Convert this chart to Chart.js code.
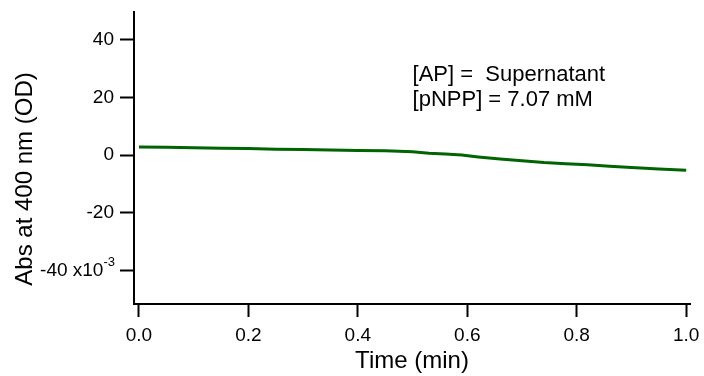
<!DOCTYPE html>
<html>
<head>
<meta charset="utf-8">
<script src="https://cdn.jsdelivr.net/npm/chart.js@4.4.0/dist/chart.umd.min.js"></script>
<style>
  html, body { margin: 0; padding: 0; background: #ffffff; }
  #wrap { width: 704px; height: 376px; }
</style>
</head>
<body>
<div id="wrap"><canvas id="c" width="704" height="376"></canvas></div>
<script>
// Time (min)
const times = [0.0, 0.05, 0.1, 0.15, 0.2, 0.25, 0.3, 0.35, 0.4, 0.45, 0.5, 0.53, 0.56, 0.59, 0.62, 0.66, 0.7, 0.74, 0.78, 0.82, 0.86, 0.9, 0.95, 1.0];
// Abs at 400 nm, in units of 1e-3 OD
const absMilli = [2.8, 2.7, 2.55, 2.4, 2.25, 2.05, 1.9, 1.75, 1.6, 1.45, 1.15, 0.65, 0.35, 0.0, -0.65, -1.4, -2.0, -2.6, -3.0, -3.35, -3.85, -4.3, -4.85, -5.25];
const xTicks = [0.0, 0.2, 0.4, 0.6, 0.8, 1.0];
const yTicks = [-40, -20, 0, 20, 40];
const yTitle = 'Abs at 400 nm (OD)';
const xTitle = 'Time (min)';
const noteLines = ['[AP] =  Supernatant', '[pNPP] = 7.07 mM'];
const notePos = { x: 0.5, y: [27.8, 19.1] };
const expTick = -40;      // tick that carries the "x10^-3" multiplier
const expText = ['x10', '-3'];

const FONT = "'Liberation Sans', Arial, sans-serif";

const textPlugin = {
  id: 'texts',
  afterDraw(chart) {
    const ctx = chart.ctx;
    const xs = chart.scales.x, ys = chart.scales.y;
    ctx.save();
    ctx.fillStyle = '#000';
    // multiplier label on the -40 tick
    const ty = ys.getPixelForValue(expTick);
    const rightEdge = chart.chartArea.left - 14 - 6;
    ctx.font = '13px ' + FONT;
    const supW = ctx.measureText(expText[1]).width;
    ctx.textAlign = 'right';
    ctx.textBaseline = 'middle';
    ctx.fillText(expText[1], rightEdge + 1, ty - 8);
    ctx.font = '19px ' + FONT;
    ctx.fillText(String(expTick) + ' ' + expText[0], rightEdge + 1 - supW, ty);
    // annotation
    ctx.font = '22px ' + FONT;
    ctx.textAlign = 'left';
    ctx.textBaseline = 'middle';
    noteLines.forEach((t, i) => {
      ctx.fillText(t, xs.getPixelForValue(notePos.x), ys.getPixelForValue(notePos.y[i]));
    });
    // y axis title
    ctx.font = '24px ' + FONT;
    ctx.translate(25, 179);
    ctx.rotate(-Math.PI / 2);
    ctx.textAlign = 'center';
    ctx.textBaseline = 'middle';
    ctx.fillText(yTitle, 0, 0);
    ctx.restore();
  }
};

new Chart(document.getElementById('c'), {
  type: 'line',
  data: {
    datasets: [{
      data: times.map((t, i) => ({ x: t, y: absMilli[i] })),
      borderColor: '#006400',
      borderWidth: 3,
      pointRadius: 0,
      tension: 0,
      fill: false
    }]
  },
  options: {
    responsive: false,
    animation: false,
    layout: { padding: { left: 0, top: 12, right: 14, bottom: 0 } },
    plugins: { legend: { display: false }, tooltip: { enabled: false } },
    scales: {
      x: {
        type: 'linear',
        min: -0.009, max: 1.007,
        afterBuildTicks: s => { s.ticks = xTicks.map(v => ({ value: v })); },
        afterFit: s => { s.height = 72; s.paddingLeft = 0; s.paddingRight = 0; },
        ticks: {
          color: '#000', font: { family: FONT, size: 19 }, padding: 7,
          maxRotation: 0, autoSkip: false,
          callback: v => Number(v).toFixed(1)
        },
        grid: { display: true, drawOnChartArea: false, drawTicks: true, tickLength: 13, tickWidth: 2, tickColor: '#000', color: '#000' },
        border: { display: true, color: '#000', width: 2 },
        title: { display: true, text: xTitle, color: '#000', font: { family: FONT, size: 24 }, padding: { top: 1, bottom: 0 } }
      },
      y: {
        type: 'linear',
        min: -51.7, max: 49.65,
        afterBuildTicks: s => { s.ticks = yTicks.map(v => ({ value: v })); },
        afterFit: s => { s.width = 134; s.paddingTop = 0; s.paddingBottom = 0; },
        ticks: {
          color: '#000', font: { family: FONT, size: 19 }, padding: 6, autoSkip: false,
          callback: v => v === expTick ? '' : String(v)
        },
        grid: { display: true, drawOnChartArea: false, drawTicks: true, tickLength: 14, tickWidth: 2, tickColor: '#000', color: '#000' },
        border: { display: true, color: '#000', width: 2 },
        title: { display: false }
      }
    }
  },
  plugins: [textPlugin]
});
</script>
</body>
</html>
